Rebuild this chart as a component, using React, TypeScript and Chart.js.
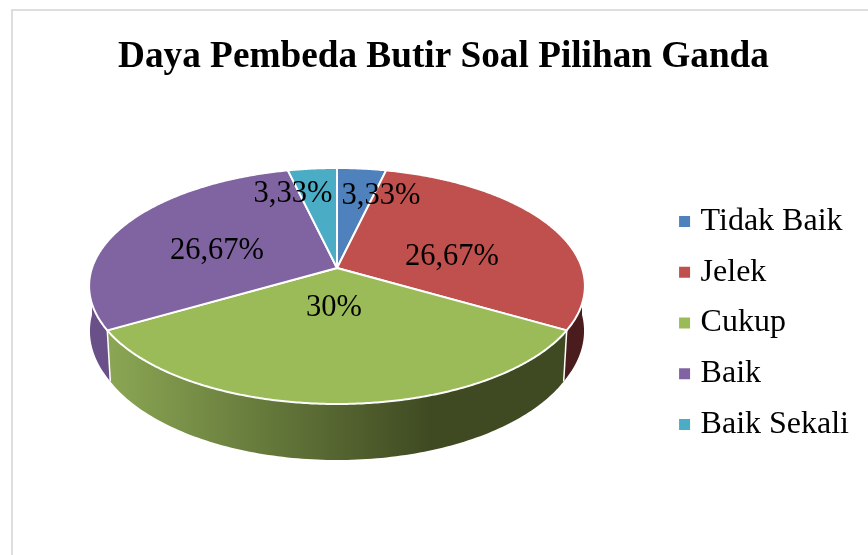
import React, { useEffect, useRef } from "react";
import { Chart, registerables } from "chart.js";

Chart.register(...registerables);

const titleText = "Daya Pembeda Butir Soal Pilihan Ganda";
const categories = ["Tidak Baik", "Jelek", "Cukup", "Baik", "Baik Sekali"];
const percentages = [3.33, 26.67, 30, 26.67, 3.33];
const topColors = ["#4f81bd", "#c0504d", "#9bbb59", "#8064a2", "#4bacc6"];
const wallStart = ["#3a5f8c", "#4a1c1e", "#8aa653", "#6a5088", "#357f93"];
const wallEnd = ["#3a5f8c", "#4a1c1e", "#3f4a22", "#5f4879", "#357f93"];
const labelCentres = [
  [381, 196],
  [452, 257],
  [334, 308],
  [217, 251],
  [293, 194],
];

const FONT = '"Liberation Serif", "Times New Roman", serif';
const APEX_X = 337;
const APEX_Y = 268;
const RX = 245;
const RY = 115.25;
const PERSP = -0.1525;

const formatPercent = (v: number) => String(v).replace(".", ",") + "%";

function rimTop(theta: number) {
  const ux = Math.sin(theta);
  const uy = -Math.cos(theta);
  const d = 1 + PERSP * uy;
  return { x: (RX * ux) / d, y: (RY * uy) / d };
}

function rimBottom(theta: number) {
  const p = rimTop(theta);
  const t = Math.max(0, Math.min(1, p.y / 62));
  const sx = 1 - 0.013 * t;
  const depth = 51 + ((p.y - 62) * 5) / 74;
  return { x: APEX_X + p.x * sx, y: APEX_Y + p.y + depth };
}

function toCanvas(p: { x: number; y: number }) {
  return { x: APEX_X + p.x, y: APEX_Y + p.y };
}

const pie3d = {
  id: "pie3d",
  beforeDraw(chart: any) {
    const { ctx } = chart;
    ctx.save();
    ctx.fillStyle = "#dedede";
    ctx.fillRect(11, 9, 857, 2);
    ctx.fillRect(11, 9, 2, 546);
    ctx.restore();
  },
  beforeDatasetDraw(chart: any, args: any) {
    const { ctx } = chart;
    const arcs = args.meta.data;
    const STEP = Math.PI / 180;
    const spans = arcs.map((a: any) => [a.startAngle + Math.PI / 2, a.endAngle + Math.PI / 2]);

    ctx.save();
    // side walls
    arcs.forEach((_: any, i: number) => {
      const from = Math.max(spans[i][0], Math.PI / 2);
      const to = Math.min(spans[i][1], (3 * Math.PI) / 2);
      if (to <= from) return;
      const grad = ctx.createLinearGradient(110, 0, 430, 0);
      grad.addColorStop(0, wallStart[i]);
      grad.addColorStop(1, wallEnd[i]);
      ctx.beginPath();
      for (let t = from; t < to; t += STEP) {
        const p = toCanvas(rimTop(t));
        ctx.lineTo(p.x, p.y);
      }
      const e = toCanvas(rimTop(to));
      ctx.lineTo(e.x, e.y);
      const eb = rimBottom(to);
      ctx.lineTo(eb.x, eb.y);
      for (let t = to; t > from; t -= STEP) {
        const p = rimBottom(t);
        ctx.lineTo(p.x, p.y);
      }
      const sb = rimBottom(from);
      ctx.lineTo(sb.x, sb.y);
      ctx.closePath();
      ctx.fillStyle = grad;
      ctx.fill();
    });
    // separators on the wall
    ctx.strokeStyle = "#ffffff";
    ctx.lineWidth = 1.5;
    arcs.forEach((_: any, i: number) => {
      const t = spans[i][0];
      if (t <= Math.PI / 2 || t >= (3 * Math.PI) / 2) return;
      const a = toCanvas(rimTop(t));
      const b = rimBottom(t);
      ctx.beginPath();
      ctx.moveTo(a.x, a.y);
      ctx.lineTo(b.x, b.y);
      ctx.stroke();
    });
    // top faces
    arcs.forEach((_: any, i: number) => {
      const [from, to] = spans[i];
      ctx.beginPath();
      ctx.moveTo(APEX_X, APEX_Y);
      for (let t = from; t < to; t += STEP / 2) {
        const p = toCanvas(rimTop(t));
        ctx.lineTo(p.x, p.y);
      }
      const e = toCanvas(rimTop(to));
      ctx.lineTo(e.x, e.y);
      ctx.closePath();
      ctx.fillStyle = topColors[i];
      ctx.fill();
      ctx.strokeStyle = "#ffffff";
      ctx.lineWidth = 2;
      ctx.lineJoin = "round";
      ctx.stroke();
    });
    ctx.restore();
    return false;
  },
  afterDatasetsDraw(chart: any) {
    const { ctx } = chart;
    ctx.save();
    ctx.fillStyle = "#000000";
    ctx.font = `30.5px ${FONT}`;
    ctx.textAlign = "center";
    ctx.textBaseline = "middle";
    percentages.forEach((v, i) => {
      ctx.fillText(formatPercent(v), labelCentres[i][0], labelCentres[i][1]);
    });
    ctx.restore();
  },
};

export default function App() {
  const ref = useRef<HTMLCanvasElement | null>(null);
  useEffect(() => {
    if (!ref.current) return;
    const chart = new Chart(ref.current, {
      type: "pie",
      data: {
        labels: categories,
        datasets: [{ data: percentages, backgroundColor: topColors, borderWidth: 0 }],
      },
      options: {
        responsive: false,
        animation: false,
        layout: { padding: { left: 28, right: 9, top: 0, bottom: 0 } },
        plugins: {
          tooltip: { enabled: false },
          title: {
            display: true,
            text: titleText,
            color: "#000000",
            font: { family: FONT, size: 37.25, weight: "bold" },
            padding: { top: 35, bottom: 11.3 },
          },
          legend: {
            position: "right",
            fullSize: false,
            labels: {
              color: "#000000",
              font: { family: FONT, size: 32 },
              usePointStyle: true,
              pointStyle: "rect",
              boxWidth: 0.01,
              boxHeight: 11,
              padding: 18.7,
            },
          },
        },
      } as any,
      plugins: [pie3d as any],
    });
    return () => chart.destroy();
  }, []);
  return (
    <div style={{ position: "fixed", left: 0, top: 0, width: 868, height: 555, background: "#ffffff" }}>
      <canvas ref={ref} width={868} height={555} style={{ display: "block" }} />
    </div>
  );
}
